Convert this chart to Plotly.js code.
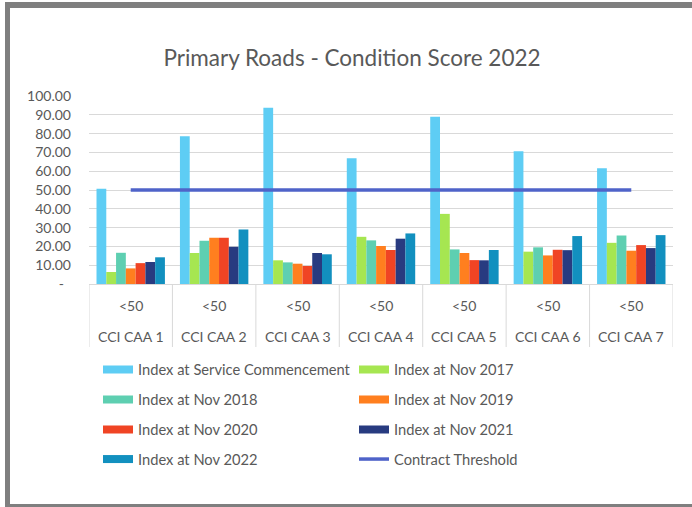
<!DOCTYPE html>
<html>
<head>
<meta charset="utf-8">
<script src="https://cdn.plot.ly/plotly-3.0.1.min.js"></script>
<style>
  html, body { margin: 0; padding: 0; background: #fff; }
  #wrap { position: relative; width: 692px; height: 507px; overflow: hidden; }
  #chart { position: absolute; left: 0; top: 0; width: 692px; height: 507px; }
  .bd { position: absolute; background: #7f7f7f; pointer-events: none; }
</style>
</head>
<body>
<div id="wrap">
  <div id="chart"></div>
  <div class="bd" style="left:5px; top:2px; width:687px; height:6px;"></div>
  <div class="bd" style="left:5px; top:2px; width:5px; height:505px;"></div>
  <div class="bd" style="left:5px; top:504px; width:687px; height:3px;"></div>
</div>
<script>
// ---- data ----
const categories = ['CCI CAA 1', 'CCI CAA 2', 'CCI CAA 3', 'CCI CAA 4', 'CCI CAA 5', 'CCI CAA 6', 'CCI CAA 7'];
const bands = ['<50', '<50', '<50', '<50', '<50', '<50', '<50'];
const serviceCommencement = [50.6, 78.6, 93.8, 66.9, 88.9, 70.6, 61.6];
const nov2017 = [6.4, 16.5, 12.6, 25.1, 37.3, 17.2, 21.9];
const nov2018 = [16.6, 23.0, 11.5, 23.2, 18.4, 19.5, 25.8];
const nov2019 = [8.3, 24.6, 10.8, 20.2, 16.5, 15.2, 17.7];
const nov2020 = [11.1, 24.6, 9.6, 18.1, 12.7, 18.2, 20.7];
const nov2021 = [11.7, 19.8, 16.5, 24.1, 12.6, 18.0, 19.1];
const nov2022 = [14.2, 29.0, 15.8, 26.9, 18.1, 25.5, 26.0];
const contractThreshold = [50, 50, 50, 50, 50, 50, 50];
const seriesNames = ['Index at Service Commencement', 'Index at Nov 2017', 'Index at Nov 2018',
  'Index at Nov 2019', 'Index at Nov 2020', 'Index at Nov 2021', 'Index at Nov 2022'];
const thresholdName = 'Contract Threshold';
const yTickVals = [0, 10, 20, 30, 40, 50, 60, 70, 80, 90, 100];
const yTickText = ['-\u00a0\u00a0', '10.00', '20.00', '30.00', '40.00', '50.00', '60.00', '70.00', '80.00', '90.00', '100.00'];

// ---- style ----
const colors = ['#5ecdf4', '#a6e651', '#5ecfb1', '#ff7f1f', '#f04424', '#283b80', '#1290bf'];
const lineColor = '#4f63c9';
const FONT = 'Lato, "Open Sans", sans-serif';
const TXT = '#595959';
const GRID = '#d9d9d9';

const W = 692, H = 507;
const M = { l: 89, r: 19, t: 96, b: 223 };
const plotH = H - M.t - M.b;
const pyPaper = (px) => (H - M.b - px) / plotH;   // pixel row -> paper y

const seriesValues = [serviceCommencement, nov2017, nov2018, nov2019, nov2020, nov2021, nov2022];

const traces = [];
seriesValues.forEach((vals, i) => {
  traces.push({
    type: 'bar', x: categories, y: vals, name: seriesNames[i],
    marker: { color: colors[i], line: { width: 0 } },
    showlegend: false, legendgroup: 'g' + i, hoverinfo: 'y+name'
  });
});
traces.push({
  type: 'scatter', mode: 'lines', x: categories, y: contractThreshold, name: thresholdName,
  line: { color: lineColor, width: 3.5 }, showlegend: false, legendgroup: 'gT'
});

// legend entries: 4 rows x 2 columns, one legend box per entry
const allNames = seriesNames.concat([thresholdName]);
const allColors = colors.concat([lineColor]);
const legendIds = allNames.map((_, k) => k === 0 ? 'legend' : 'legend' + (k + 1));
allNames.forEach((nm, k) => {
  const isLine = k === allNames.length - 1;
  traces.push({
    type: 'scatter', mode: 'lines', x: [categories[0]], y: [null],
    name: nm, legendgroup: isLine ? 'gT' : 'g' + k,
    legend: legendIds[k],
    line: { color: allColors[k], width: isLine ? 3.5 : 8 },
    hoverinfo: 'skip'
  });
});

const rowY = [370, 400, 430, 459.5];
const colX = [98, 354];

const annotations = [];
categories.forEach((c, i) => {
  annotations.push({ xref: 'x', yref: 'paper', x: c, y: pyPaper(305), text: bands[i],
    showarrow: false, xanchor: 'center', yanchor: 'middle',
    font: { family: FONT, size: 14, color: TXT } });
  annotations.push({ xref: 'x', yref: 'paper', x: c, y: pyPaper(336.5), text: c,
    showarrow: false, xanchor: 'center', yanchor: 'middle',
    font: { family: FONT, size: 14, color: TXT } });
});

const shapes = [];
for (let i = 0; i <= categories.length; i++) {
  shapes.push({ type: 'line', xref: 'x', yref: 'paper', x0: i - 0.5, x1: i - 0.5,
    y0: 0, y1: pyPaper(347), line: { color: GRID, width: 1 } });
}

const layout = {
  width: W, height: H,
  margin: M,
  paper_bgcolor: '#ffffff', plot_bgcolor: '#ffffff',
  font: { family: FONT, size: 14, color: TXT },
  title: {
    text: 'Primary Roads - Condition Score 2022',
    font: { family: FONT, size: 22.5, color: TXT },
    xref: 'container', yref: 'container',
    x: 352 / W, xanchor: 'center', y: 1 - 58 / H, yanchor: 'middle'
  },
  barmode: 'group', bargap: 0.18, bargroupgap: 0,
  xaxis: {
    type: 'category', range: [-0.5, categories.length - 0.5],
    showline: true, linecolor: GRID, linewidth: 1,
    showgrid: false, ticks: '', showticklabels: false
  },
  yaxis: {
    range: [0, 100], tickvals: yTickVals, ticktext: yTickText,
    showgrid: true, gridcolor: GRID, gridwidth: 1,
    zeroline: false, showline: false, ticks: '',
    ticklabelstandoff: 17,
    tickfont: { family: FONT, size: 14, color: TXT }
  },
  annotations: annotations,
  shapes: shapes,
  showlegend: true
};
legendIds.forEach((ln, k) => {
  layout[ln] = {
    orientation: 'h', xref: 'container', yref: 'container',
    x: colX[k % 2] / W, xanchor: 'left',
    y: 1 - rowY[Math.floor(k / 2)] / H, yanchor: 'middle',
    font: { family: FONT, size: 14.7, color: TXT },
    bgcolor: 'rgba(0,0,0,0)', borderwidth: 0
  };
});

Plotly.newPlot('chart', traces, layout, { displayModeBar: false, staticPlot: true });
</script>
</body>
</html>
